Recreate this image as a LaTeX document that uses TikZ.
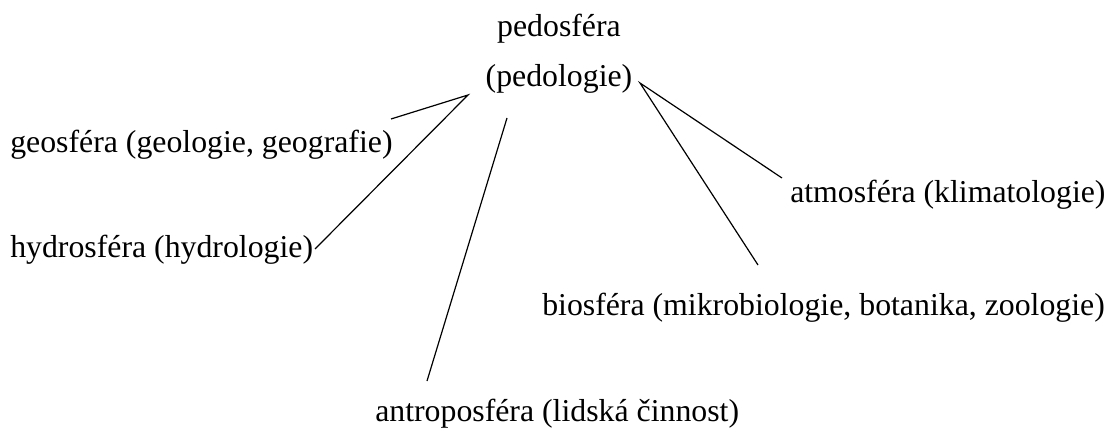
\documentclass[tikz,border=0pt]{standalone}
\usepackage{fontspec}
\setmainfont{Liberation Serif}
\usepackage{tikz}
\usetikzlibrary{positioning,calc}

\tikzset{
    sphere/.style={inner sep=0pt, anchor=base west, font=\fontsize{23.85}{28}\selectfont},
    centre/.style={inner sep=0pt, anchor=base, font=\fontsize{23.85}{28}\selectfont},
    link/.style={line width=0.9pt, black}
}

\begin{document}
\begin{tikzpicture}[x=0.75pt, y=-0.75pt]
    \useasboundingbox (0,0) rectangle (1110,428);

    % Centre
    \node[centre] (pedo) at (559,37) {pedosféra};
    \node[centre] (pedol) at (559,87) {(pedologie)};

    % Spheres
    \node[sphere] (geo) at (10,152) {geosféra (geologie, geografie)};
    \node[sphere] (hydro) at (10,257) {hydrosféra (hydrologie)};
    \node[sphere] (atmo) at (790,202) {atmosféra (klimatologie)};
    \node[sphere] (bio) at (542,315) {biosféra (mikrobiologie, botanika, zoologie)};
    \node[sphere] (antro) at (375,421) {antroposféra (lidská činnost)};

    % Line ends
    \coordinate (leftTip) at (468,95);
    \coordinate (rightTip) at (640,83);
    \coordinate (antroTop) at (507,118);
    \coordinate (geoEnd) at (391,119);
    \coordinate (hydroEnd) at (315,249);
    \coordinate (antroEnd) at (427,381);
    \coordinate (atmoEnd) at (782,178);
    \coordinate (bioEnd) at (758,265);

    % Links
    \draw[link] (geoEnd) -- (leftTip) -- (hydroEnd);
    \draw[link] (antroTop) -- (antroEnd);
    \draw[link] (atmoEnd) -- (rightTip) -- (bioEnd);
\end{tikzpicture}
\end{document}
